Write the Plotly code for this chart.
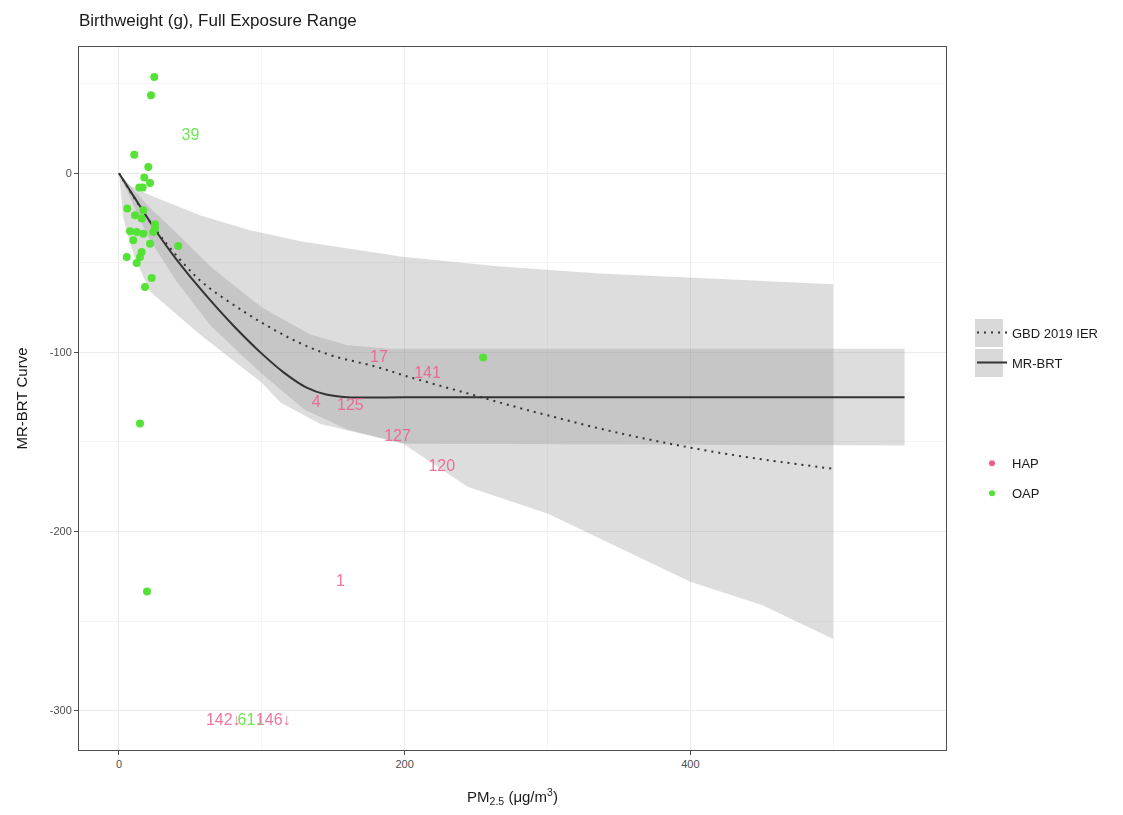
import numpy as np
import plotly.graph_objects as go

# ---- data -------------------------------------------------------------
# MR-BRT central curve
mrbrt_x = [0, 10, 20, 30, 45, 64, 80, 99, 115, 131, 145, 160, 200, 550]
mrbrt_y = [0, -12.5, -25, -37, -53, -71, -85, -100, -111, -119.5, -123.5, -125, -125, -125]

# MR-BRT uncertainty interval
mrbrt_up_x = [0, 20, 40, 64, 100, 134, 160, 190, 550]
mrbrt_up_y = [0, -18, -33, -52, -75, -90, -96, -98, -98]
mrbrt_lo_x = [0, 20, 40, 64, 100, 130, 160, 200, 550]
mrbrt_lo_y = [0, -35, -60, -85, -112, -132, -143, -151, -152]

# GBD 2019 IER curve
gbd_x = [0, 10, 20, 30, 47, 60, 87, 110, 130, 150, 180, 200, 240, 285, 350, 420, 500]
gbd_y = [0, -13, -25, -36, -52, -62, -77, -88, -96, -102, -108, -113, -122, -132, -145, -156, -165]

# GBD 2019 IER uncertainty interval
gbd_up_x = [0, 8, 21.7, 56.7, 91.7, 126.8, 196.8, 266.8, 336.8, 420, 500]
gbd_up_y = [0, -7, -12.3, -23.5, -31.8, -38, -46.4, -52, -55.9, -59, -62]
gbd_lo_x = [0, 3, 10, 21.7, 56.7, 100, 113, 141, 183, 199, 244, 300, 340, 400, 450, 500]
gbd_lo_y = [0, -25, -45, -66, -90, -117, -128, -140, -148, -151, -175, -190, -205, -228, -241, -260]

# OAP study estimates
oap_x = [24.7, 22.4, 10.7, 20.5, 17.7, 21.7, 14.2, 16.6, 5.8, 17.0, 11.2, 15.9, 25.2,
         25.2, 7.7, 12.4, 17.0, 24.0, 10.0, 21.7, 41.5, 15.9, 5.4, 14.7, 12.4, 22.9,
         18.2, 14.7, 19.6, 254.9]
oap_y = [53.8, 43.6, 10.4, 3.5, -2.4, -5.4, -8.0, -8.0, -19.7, -20.7, -23.5, -25.3, -28.5,
         -30.9, -32.4, -32.8, -33.7, -32.8, -37.4, -39.3, -40.6, -44.0, -46.8, -46.8, -50.1,
         -58.5, -63.5, -139.7, -233.5, -102.8]

# study labels
hap_lab_x = [182, 216, 138, 162, 195, 226, 155, 73, 108]
hap_lab_y = [-103, -112, -128, -130, -147, -164, -228, -305.6, -305.6]
hap_lab_text = ["17", "141", "4", "125", "127", "120", "1", "142\u2193", "146\u2193"]

oap_lab_x = [50, 92]
oap_lab_y = [20.7, -305.6]
oap_lab_text = ["39", "61\u2193"]

x_ticks = [0, 200, 400]
x_tick_text = ["0", "200", "400"]
y_ticks = [0, -100, -200, -300]
y_tick_text = ["0", "-100", "-200", "-300"]

# ---- styling ---------------------------------------------------------
FONT = "Liberation Sans, Arial, sans-serif"
PINK = "#EE5C90"
GREEN = "#55E236"
BAND = "rgba(150,150,150,0.32)"
LINE = "#333333"

fig = go.Figure()


def band(xu, yu, xl, yl):
    return go.Scatter(
        x=np.concatenate([xu, xl[::-1]]),
        y=np.concatenate([yu, yl[::-1]]),
        fill="toself", fillcolor=BAND, line=dict(width=0),
        mode="lines", hoverinfo="skip", showlegend=False,
    )


fig.add_trace(band(np.array(gbd_up_x), np.array(gbd_up_y),
                   np.array(gbd_lo_x), np.array(gbd_lo_y)))
fig.add_trace(band(np.array(mrbrt_up_x), np.array(mrbrt_up_y),
                   np.array(mrbrt_lo_x), np.array(mrbrt_lo_y)))

fig.add_trace(go.Scatter(
    x=gbd_x, y=gbd_y, mode="lines", name="GBD 2019 IER",
    line=dict(color=LINE, width=2, dash="2px,5px", shape="spline"),
    legend="legend", legendgroup="g1",
))
fig.add_trace(go.Scatter(
    x=mrbrt_x, y=mrbrt_y, mode="lines", name="MR-BRT",
    line=dict(color=LINE, width=2, shape="spline", smoothing=1),
    legend="legend", legendgroup="g2",
))

fig.add_trace(go.Scatter(
    x=oap_x, y=oap_y, mode="markers",
    marker=dict(color=GREEN, size=8), showlegend=False,
))

fig.add_trace(go.Scatter(
    x=hap_lab_x, y=hap_lab_y, text=hap_lab_text, mode="text",
    textfont=dict(family=FONT, size=16, color=PINK), opacity=0.85,
    showlegend=False,
))
fig.add_trace(go.Scatter(
    x=oap_lab_x, y=oap_lab_y, text=oap_lab_text, mode="text",
    textfont=dict(family=FONT, size=16, color=GREEN), opacity=0.85,
    showlegend=False,
))

# colour legend entries
fig.add_trace(go.Scatter(
    x=[None], y=[None], mode="markers", name="HAP",
    marker=dict(color=PINK, size=6), legend="legend2", legendgroup="h",
))
fig.add_trace(go.Scatter(
    x=[None], y=[None], mode="markers", name="OAP",
    marker=dict(color=GREEN, size=6), legend="legend2", legendgroup="o",
))

# grey key backgrounds behind the line legend
for y0, y1 in [(0.5732, 0.6131), (0.5306, 0.5704)]:
    fig.add_shape(type="rect", xref="paper", yref="paper",
                  x0=1.0334, x1=1.0657, y0=y0, y1=y1,
                  fillcolor="#D9D9D9", line=dict(width=0), layer="below")

axis_common = dict(
    showline=True, linecolor="#4D4D4D", linewidth=1, mirror=True,
    ticks="outside", ticklen=4, tickcolor="#4D4D4D", tickwidth=1,
    tickfont=dict(family=FONT, size=11, color="#4D4D4D"),
    showgrid=True, gridcolor="#EBEBEB", gridwidth=1.2, zeroline=False,
)

fig.update_layout(
    width=1123, height=815,
    margin=dict(l=79, r=177, t=47, b=65),
    paper_bgcolor="white", plot_bgcolor="white",
    font=dict(family=FONT, color="#1A1A1A"),
    title=dict(text="Birthweight (g), Full Exposure Range",
               x=79 / 1123, xanchor="left", y=1 - 20 / 815, yanchor="middle",
               font=dict(family=FONT, size=17, color="#1A1A1A")),
    xaxis=dict(range=[-28, 579], tickvals=x_ticks, ticktext=x_tick_text,
               minor=dict(tickvals=[100, 300, 500], showgrid=True,
                          gridcolor="#F4F4F4", gridwidth=1, ticks=""),
               title=dict(text="PM<sub>2.5</sub> (\u03bcg/m<sup>3</sup>)",
                          font=dict(family=FONT, size=15, color="#1A1A1A"),
                          standoff=22),
               **axis_common),
    yaxis=dict(range=[-322, 70.5], tickvals=y_ticks, ticktext=y_tick_text,
               minor=dict(tickvals=[50, -50, -150, -250], showgrid=True,
                          gridcolor="#F4F4F4", gridwidth=1, ticks=""),
               title=dict(text="MR-BRT Curve",
                          font=dict(family=FONT, size=15, color="#1A1A1A"),
                          standoff=18),
               **axis_common),
    legend=dict(x=1.03, y=0.615, xanchor="left", yanchor="top",
                traceorder="grouped", tracegroupgap=10,
                font=dict(family=FONT, size=13, color="#1A1A1A"),
                bgcolor="rgba(0,0,0,0)", itemwidth=30),
    legend2=dict(x=1.03, y=0.429, xanchor="left", yanchor="top",
                 traceorder="grouped", tracegroupgap=10,
                 font=dict(family=FONT, size=13, color="#1A1A1A"),
                 bgcolor="rgba(0,0,0,0)", itemwidth=30),
    showlegend=True,
)

fig.write_html("out.html")
